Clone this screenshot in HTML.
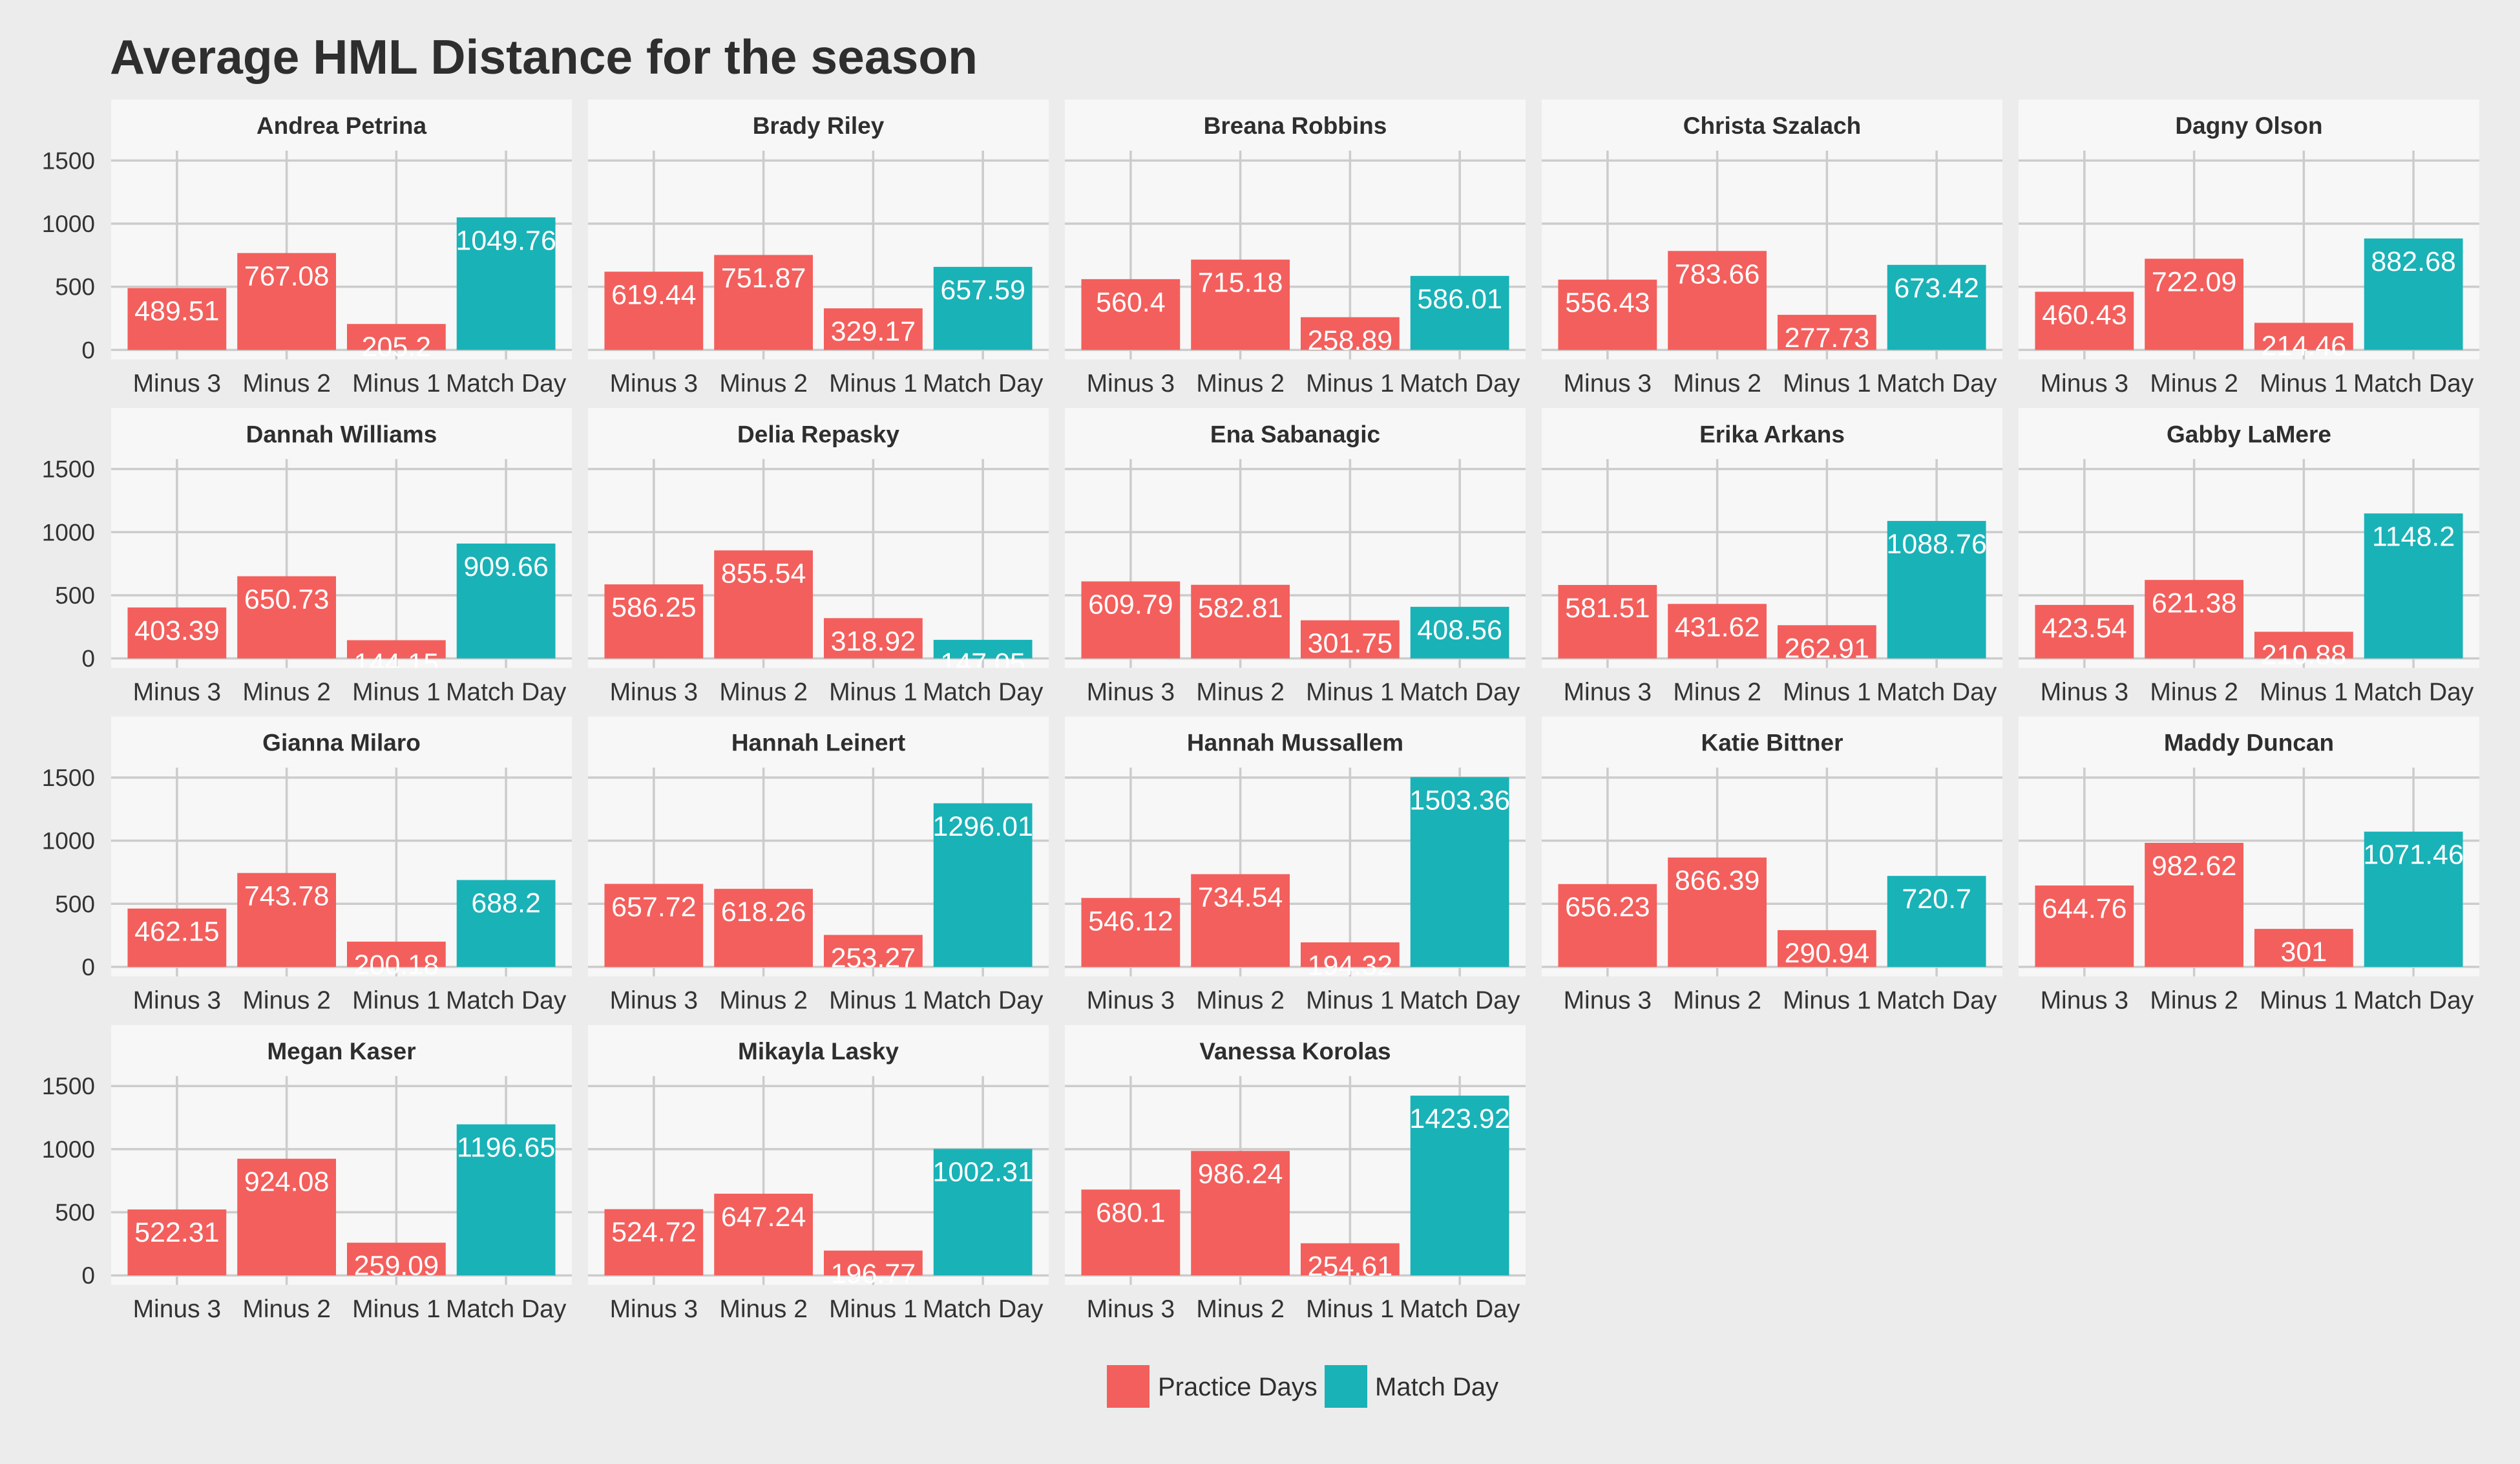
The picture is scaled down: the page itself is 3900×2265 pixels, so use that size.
<!DOCTYPE html>
<html><head><meta charset="utf-8"><style>
html,body{margin:0;padding:0;background:#ececec;}
svg{display:block;font-family:"Liberation Sans",Arial,sans-serif;}
</style></head><body>
<svg id="chart" width="3900" height="2265" viewBox="0 0 3900 2265">
<rect x="0" y="0" width="3900" height="2265" fill="#ececec"/>
<text x="170" y="114" font-size="75" font-weight="bold" fill="#2e2e2e" textLength="1343" lengthAdjust="spacingAndGlyphs">Average HML Distance for the season</text>
<g id="panels"></g>
<g>
<rect x="1713" y="2112" width="66" height="66" fill="#f35f5c"/>
<text x="1792" y="2159" font-size="40" fill="#2e2e2e">Practice Days</text>
<rect x="2050" y="2112" width="66" height="66" fill="#19b2b7"/>
<text x="2128" y="2159" font-size="40" fill="#2e2e2e">Match Day</text>
</g>
</svg>
<script>
const players = ["Andrea Petrina","Brady Riley","Breana Robbins","Christa Szalach","Dagny Olson","Dannah Williams","Delia Repasky","Ena Sabanagic","Erika Arkans","Gabby LaMere","Gianna Milaro","Hannah Leinert","Hannah Mussallem","Katie Bittner","Maddy Duncan","Megan Kaser","Mikayla Lasky","Vanessa Korolas"];
const categories = ["Minus 3","Minus 2","Minus 1","Match Day"];
const minus3 = [489.51,619.44,560.4,556.43,460.43,403.39,586.25,609.79,581.51,423.54,462.15,657.72,546.12,656.23,644.76,522.31,524.72,680.1];
const minus2 = [767.08,751.87,715.18,783.66,722.09,650.73,855.54,582.81,431.62,621.38,743.78,618.26,734.54,866.39,982.62,924.08,647.24,986.24];
const minus1 = [205.2,329.17,258.89,277.73,214.46,144.15,318.92,301.75,262.91,210.88,200.18,253.27,194.32,290.94,301,259.09,196.77,254.61];
const matchDay = [1049.76,657.59,586.01,673.42,882.68,909.66,147.05,408.56,1088.76,1148.2,688.2,1296.01,1503.36,720.7,1071.46,1196.65,1002.31,1423.92];
const yTicks = [0,500,1000,1500];

const NS="http://www.w3.org/2000/svg";
const root=document.getElementById('panels');
const maxVal=Math.max(...minus3,...minus2,...minus1,...matchDay);
const yMin=-0.05*maxVal, yMax=1.05*maxVal;
const PW=713, PITCHX=738, X0=172, ROW0=154, PITCHY=477.3, STRIPH=79, PH=323;
function mk(tag,attrs,parent){const e=document.createElementNS(NS,tag);for(const k in attrs)e.setAttribute(k,attrs[k]);parent.appendChild(e);return e;}
players.forEach((name,i)=>{
  const col=i%5,row=Math.floor(i/5);
  const px=X0+col*PITCHX, sy=ROW0+row*PITCHY, py=sy+STRIPH;
  const yS=v=>py+PH-(v-yMin)/(yMax-yMin)*PH;
  const unit=PW/(categories.length-1+1.2);
  const xS=k=>px+unit*(k+0.6);
  const g=mk('g',{},root);
  
  
  const strip=mk('rect',{x:px,y:sy,width:PW,height:STRIPH,fill:'#f7f7f7'},g);
  
  
  const st=mk('text',{x:px+PW/2,y:sy+53,'font-size':37,'font-weight':'bold','text-anchor':'middle',fill:'#2e2e2e'},g);
  st.textContent=name;
  
  
  const bg=mk('rect',{x:px,y:py,width:PW,height:PH,fill:'#f7f7f7'},g);
  
  
  const cid='clip'+i;
  const cp=mk('clipPath',{id:cid},g);
  mk('rect',{x:px,y:py,width:PW,height:PH},cp);
  yTicks.forEach(t=>{
    const l=mk('line',{x1:px,x2:px+PW,y1:yS(t),y2:yS(t),stroke:'#cccccc','stroke-width':3.5},g);
    
    
    if(col===0){
      const tl=mk('text',{x:px-25,y:yS(t)+13,'font-size':37,'text-anchor':'end',fill:'#333'},g);
      tl.textContent=t;
      
      
    }
  });
  categories.forEach((c,k)=>{
    const l=mk('line',{x1:xS(k),x2:xS(k),y1:py,y2:py+PH,stroke:'#cccccc','stroke-width':3.5},g);
    
    
    const xl=mk('text',{x:xS(k),y:py+PH+50,'font-size':39,'text-anchor':'middle',fill:'#333'},g);
    xl.textContent=c;
    
    
  });
  const vals=[minus3[i],minus2[i],minus1[i],matchDay[i]];
  const bars=mk('g',{'clip-path':'url(#'+cid+')'},g);
  vals.forEach((v,k)=>{
    const bw=unit*0.9;
    const top=yS(v), base=yS(0);
    const r=mk('rect',{x:xS(k)-bw/2,y:top,width:bw,height:base-top,fill:k===3?'#19b2b7':'#f35f5c'},bars);
    
    
    const t=mk('text',{x:xS(k),y:top+50,'font-size':43,'text-anchor':'middle',fill:'#ffffff'},bars);
    t.textContent=String(v);
    
    
  });
});
</script>
</body></html>
